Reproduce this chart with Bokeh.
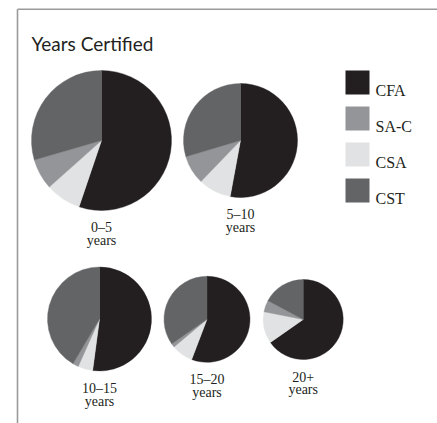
import math
from bokeh.plotting import figure
from bokeh.models import ColumnDataSource, Range1d, Label
from bokeh.core.properties import value
from bokeh.embed import file_html
from bokeh.resources import INLINE

# ---- data ----
groups = ["0\u20135", "5\u201310", "10\u201315", "15\u201320", "20+"]
# slice order around each pie (clockwise from 12 o'clock)
slice_order = ["CFA", "CSA", "SA-C", "CST"]
CFA = [55.2, 52.9, 52.1, 55.8, 65.3]
CSA = [8.2, 9.3, 4.6, 8.1, 12.8]
SAC = [7.1, 8.2, 1.8, 1.4, 4.7]
CST = [29.5, 29.6, 41.5, 34.7, 17.2]
pie_radius = [70, 57, 52, 43, 40]
legend_items = ["CFA", "SA-C", "CSA", "CST"]
colors = {"CFA": "#231f20", "SA-C": "#939598", "CSA": "#e1e2e3", "CST": "#636466"}

W, H = 437, 423
def fx(px):
    return px
def fy(py):
    return H - py

# pie centres in page pixels (layout)
centres = [(101, 140), (240, 140), (99, 318.5), (206.5, 318.8), (302.7, 319)]

p = figure(width=W, height=H, output_backend="svg", toolbar_location=None,
           x_range=Range1d(0, W), y_range=Range1d(0, H), min_border=0)
p.axis.visible = False
p.grid.visible = False
p.outline_line_color = None
p.background_fill_color = "white"
p.border_fill_color = "white"

# frame (top and left border)
p.line([fx(17), fx(17)], [fy(8.8), 0], line_color="#9a9a9a", line_width=1.6)
p.line([fx(17), W], [fy(8.8), fy(8.8)], line_color="#9a9a9a", line_width=1.6)

series = {"CFA": CFA, "CSA": CSA, "SA-C": SAC, "CST": CST}
wx, wy, wr, ws, we, wc = [], [], [], [], [], []
for i, g in enumerate(groups):
    vals = [series[k][i] for k in slice_order]
    tot = sum(vals)
    cum = 0.0
    cx, cy = centres[i]
    for k, v in zip(slice_order, vals):
        a0 = cum / tot
        cum += v
        a1 = cum / tot
        wx.append(fx(cx)); wy.append(fy(cy)); wr.append(pie_radius[i])
        ws.append(math.pi / 2 - 2 * math.pi * a1)
        we.append(math.pi / 2 - 2 * math.pi * a0)
        wc.append(colors[k])
src = ColumnDataSource(dict(x=wx, y=wy, r=wr, s=ws, e=we, c=wc))
p.wedge(x="x", y="y", radius="r", start_angle="s", end_angle="e",
        fill_color="c", line_color="c", line_width=0.4, source=src)

# pie labels
lx, ly, lt = [], [], []
for i, g in enumerate(groups):
    cx, cy = centres[i]
    base = cy + pie_radius[i] + 17
    lx += [fx(cx), fx(cx)]
    ly += [fy(base), fy(base + 13)]
    lt += [g, "years"]
p.text(x=lx, y=ly, text=lt, text_font=value("Liberation Serif"),
       text_font_size="14px", text_color="#231f20", text_align="center",
       text_baseline="alphabetic")

# legend
sq_y = [fy(82 + 36 * i) for i in range(len(legend_items))]
p.rect(x=[fx(357)] * len(legend_items), y=sq_y, width=24, height=24,
       fill_color=[colors[k] for k in legend_items], line_color=None)
p.text(x=[fx(375)] * len(legend_items), y=[fy(90 + 36 * i) for i in range(len(legend_items))],
       text=legend_items, text_font=value("Liberation Serif"), text_font_size="16px",
       text_color="#231f20", text_align="left", text_baseline="alphabetic")

# title
p.add_layout(Label(x=fx(31), y=fy(42.7), text="Years Certified", text_font="Lato",
                   text_font_size="19px", text_color="#231f20",
                   text_baseline="alphabetic"))

open("out.html", "w").write(file_html(p, INLINE))
